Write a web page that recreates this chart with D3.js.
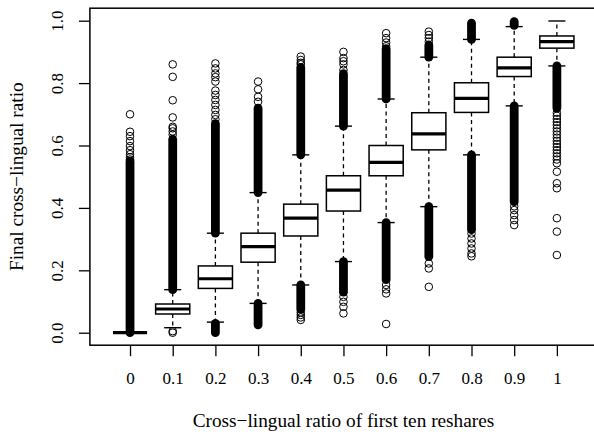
<!DOCTYPE html>
<html>
<head>
<meta charset="utf-8">
<script src="https://cdn.jsdelivr.net/npm/d3@7"></script>
<style>
  html, body { margin: 0; padding: 0; background: #fff; }
  svg { display: block; }
  svg text { font-family: "Liberation Serif", "Times New Roman", serif !important; fill: #000; }
</style>
</head>
<body>
<svg id="chart" width="594" height="435"></svg>
<script>
// ---------------- data ----------------
const categories = ["0", "0.1", "0.2", "0.3", "0.4", "0.5", "0.6", "0.7", "0.8", "0.9", "1"];
const q1          = [0.000, 0.060, 0.142, 0.226, 0.310, 0.390, 0.503, 0.586, 0.706, 0.821, 0.912];
const medians     = [0.000, 0.076, 0.173, 0.276, 0.367, 0.457, 0.546, 0.637, 0.751, 0.849, 0.933];
const q3          = [0.000, 0.092, 0.214, 0.319, 0.412, 0.503, 0.600, 0.705, 0.801, 0.883, 0.951];
const whiskerLow  = [0.000, 0.016, 0.034, 0.094, 0.153, 0.228, 0.353, 0.404, 0.570, 0.727, 0.855];
const whiskerHigh = [0.000, 0.138, 0.319, 0.449, 0.570, 0.662, 0.749, 0.883, 0.940, 0.981, 0.999];

// dense runs of overlapping outlier circles: [lowest, highest] centre values
const denseOutliers = [
  [[0.000, 0.550]],
  [[0.138, 0.620]],
  [[0.319, 0.670], [0.000, 0.030]],
  [[0.449, 0.720], [0.025, 0.094]],
  [[0.570, 0.850], [0.075, 0.153]],
  [[0.662, 0.830], [0.130, 0.228]],
  [[0.749, 0.910], [0.170, 0.353]],
  [[0.883, 0.922], [0.244, 0.404]],
  [[0.940, 0.992], [0.330, 0.570]],
  [[0.985, 0.997], [0.420, 0.727]],
  [[0.720, 0.855]]
];

// individually visible outliers
const outliers = [
  [0.555, 0.562, 0.572, 0.585, 0.598, 0.614, 0.630, 0.644, 0.700],
  [0.000, 0.005, 0.635, 0.645, 0.655, 0.660, 0.690, 0.745, 0.820, 0.860],
  [0.684, 0.698, 0.714, 0.730, 0.746, 0.762, 0.776, 0.805, 0.819, 0.831, 0.847, 0.863],
  [0.740, 0.756, 0.780, 0.805],
  [0.860, 0.865, 0.874, 0.885, 0.065, 0.057, 0.049, 0.041],
  [0.842, 0.860, 0.870, 0.880, 0.900, 0.115, 0.099, 0.083, 0.062],
  [0.918, 0.930, 0.944, 0.960, 0.153, 0.139, 0.126, 0.028],
  [0.933, 0.944, 0.954, 0.965, 0.222, 0.206, 0.147],
  [0.318, 0.302, 0.286, 0.270, 0.254, 0.245],
  [0.405, 0.393, 0.377, 0.361, 0.345],
  [0.705, 0.695, 0.685, 0.675, 0.665, 0.655, 0.645, 0.635, 0.625, 0.615, 0.605, 0.595,
   0.585, 0.575, 0.565, 0.555, 0.543, 0.516, 0.479, 0.463, 0.367, 0.324, 0.249]
];

const yTicks = [0.0, 0.2, 0.4, 0.6, 0.8, 1.0];
const yTickLabels = ["0.0", "0.2", "0.4", "0.6", "0.8", "1.0"];
const xTitle = "Cross\u2212lingual ratio of first ten reshares";
const yTitle = "Final cross\u2212lingual ratio";

// ---------------- drawing ----------------
const FONT = "'Liberation Serif', 'Times New Roman', serif";
const svg = d3.select("#chart");
const x = d3.scaleLinear().domain([0.06, 11.94]).range([89.9, 597]);
const y = d3.scaleLinear().domain([-0.04, 1.04]).range([345.2, 8.2]);
const step = x(2) - x(1);
const boxW = step * 0.8;
const capW = boxW * 0.5;
const r = 3.8;

const g = svg.append("g");

categories.forEach((c, i) => {
  const cx = x(i + 1);
  const grp = g.append("g");
  // whiskers (dashed)
  grp.append("line").attr("x1", cx).attr("x2", cx)
    .attr("y1", y(q3[i])).attr("y2", y(whiskerHigh[i]))
    .attr("stroke", "#000").attr("stroke-width", 1.3).attr("stroke-dasharray", "4,3.5");
  grp.append("line").attr("x1", cx).attr("x2", cx)
    .attr("y1", y(q1[i])).attr("y2", y(whiskerLow[i]))
    .attr("stroke", "#000").attr("stroke-width", 1.3).attr("stroke-dasharray", "4,3.5");
  // staples
  [whiskerLow[i], whiskerHigh[i]].forEach(v => {
    grp.append("line").attr("x1", cx - capW / 2).attr("x2", cx + capW / 2)
      .attr("y1", y(v)).attr("y2", y(v))
      .attr("stroke", "#000").attr("stroke-width", 1.4);
  });
  // box
  grp.append("rect").attr("x", cx - boxW / 2).attr("width", boxW)
    .attr("y", y(q3[i])).attr("height", Math.max(0, y(q1[i]) - y(q3[i])))
    .attr("fill", "#fff").attr("stroke", "#000").attr("stroke-width", 1.5);
  // median
  grp.append("line").attr("x1", cx - boxW / 2).attr("x2", cx + boxW / 2)
    .attr("y1", y(medians[i])).attr("y2", y(medians[i]))
    .attr("stroke", "#000").attr("stroke-width", 3.2);
  // dense outlier runs
  denseOutliers[i].forEach(([lo, hi]) => {
    grp.append("rect")
      .attr("x", cx - r - 0.6).attr("width", 2 * r + 1.2)
      .attr("y", y(hi) - r - 0.6).attr("height", y(lo) - y(hi) + 2 * r + 1.2)
      .attr("rx", r + 0.6).attr("fill", "#000");
  });
  // individual outliers
  grp.selectAll("circle.o").data(outliers[i]).enter().append("circle")
    .attr("class", "o").attr("cx", cx).attr("cy", d => y(d)).attr("r", r)
    .attr("fill", "none").attr("stroke", "#000").attr("stroke-width", 1);
});

// plot box
svg.append("rect").attr("x", 89.9).attr("y", 8.2)
  .attr("width", 597 - 89.9).attr("height", 345.2 - 8.2)
  .attr("fill", "none").attr("stroke", "#000").attr("stroke-width", 1.5);

// y axis
const yAxis = svg.append("g").attr("transform", "translate(89.9,0)")
  .call(d3.axisLeft(y).tickValues(yTicks).tickFormat((d, i) => yTickLabels[i]).tickSize(11).tickPadding(0))
  .attr("font-family", FONT).attr("font-size", 17);
yAxis.select(".domain").remove();
yAxis.selectAll(".tick line").attr("stroke", "#000").attr("stroke-width", 1.3);
yAxis.selectAll(".tick text")
  .attr("transform", "rotate(-90)")
  .attr("x", 0).attr("y", -26.9).attr("dy", 0)
  .attr("text-anchor", "middle")
  .attr("font-family", FONT).attr("font-size", 17);

// x axis
const xAxis = svg.append("g").attr("transform", "translate(0,345.2)")
  .call(d3.axisBottom(x).tickValues(d3.range(1, categories.length + 1))
    .tickFormat(d => categories[d - 1]).tickSize(11).tickPadding(0))
  .attr("font-family", FONT).attr("font-size", 17);
xAxis.select(".domain").remove();
xAxis.selectAll(".tick line").attr("stroke", "#000").attr("stroke-width", 1.3);
xAxis.selectAll(".tick text")
  .attr("y", 39.3).attr("dy", 0)
  .attr("font-family", FONT).attr("font-size", 17);

// titles
svg.append("text").attr("x", 343.5).attr("y", 426.5)
  .attr("text-anchor", "middle").attr("font-family", FONT).attr("font-size", 19.3).text(xTitle);
svg.append("text").attr("transform", "translate(23.3,176.7) rotate(-90)")
  .attr("text-anchor", "middle").attr("font-family", FONT).attr("font-size", 19.3).text(yTitle);
</script>
</body>
</html>
